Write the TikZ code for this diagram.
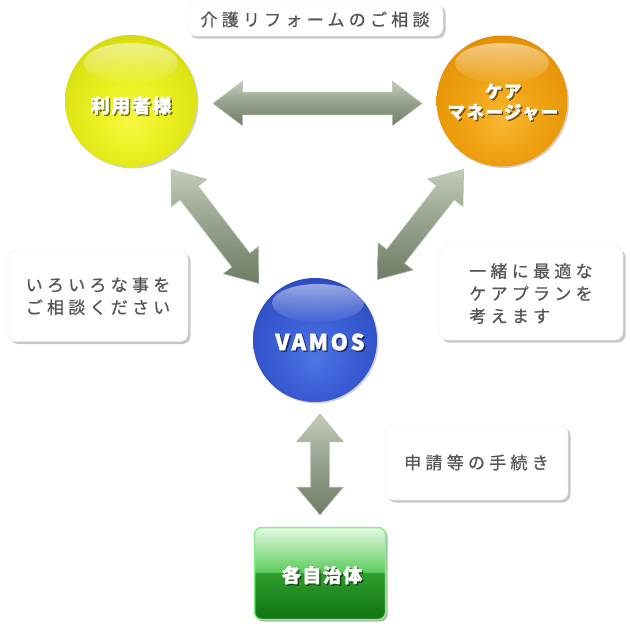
\documentclass[tikz,border=0pt]{standalone}
\usepackage{fontspec}
\newfontfamily\jpbox[LetterSpace=25,FakeBold=0.7]{Noto Sans CJK JP}
\newfontfamily\jpw[LetterSpace=8,FakeBold=1.6]{Noto Sans CJK JP}
\newfontfamily\jpv[LetterSpace=12,FakeBold=1.6]{Noto Sans CJK JP}
\usetikzlibrary{shapes.arrows,shadows,fadings,calc}
\definecolor{yA}{HTML}{F6F840}\definecolor{yB}{HTML}{EAF020}\definecolor{yC}{HTML}{DDE214}\definecolor{yD}{HTML}{CACA00}
\definecolor{oA}{HTML}{F8B630}\definecolor{oB}{HTML}{F0A414}\definecolor{oC}{HTML}{E89608}\definecolor{oD}{HTML}{D48000}
\definecolor{bA}{HTML}{4C76E4}\definecolor{bB}{HTML}{3C60D6}\definecolor{bC}{HTML}{3252C8}\definecolor{bD}{HTML}{223CA8}
\definecolor{gA}{HTML}{137413}\definecolor{gB}{HTML}{177C17}\definecolor{gC}{HTML}{2E9E2E}\definecolor{gD}{HTML}{5CCC5C}\definecolor{gE}{HTML}{E4FAE4}
\definecolor{gEdge}{HTML}{86F086}
\definecolor{aT}{HTML}{C2CBB9}\definecolor{aM}{HTML}{94A08B}\definecolor{aB}{HTML}{6E7D66}\definecolor{aEdge}{HTML}{B8C2B0}
\definecolor{tgray}{HTML}{555555}
\pgfdeclareradialshading{sphY}{\pgfpoint{0bp}{-8bp}}{color(0bp)=(yA); color(14bp)=(yB); color(26bp)=(yC); color(33bp)=(yD); color(50bp)=(yD)}
\pgfdeclareradialshading{sphO}{\pgfpoint{0bp}{-8bp}}{color(0bp)=(oA); color(14bp)=(oB); color(26bp)=(oC); color(33bp)=(oD); color(50bp)=(oD)}
\pgfdeclareradialshading{sphB}{\pgfpoint{0bp}{-8bp}}{color(0bp)=(bA); color(14bp)=(bB); color(26bp)=(bC); color(33bp)=(bD); color(50bp)=(bD)}
\pgfdeclareverticalshading{grn}{100bp}{color(0bp)=(gA); color(25bp)=(gA); color(30bp)=(gB); color(50.3bp)=(gC); color(50.8bp)=(gD); color(75bp)=(gE); color(100bp)=(gE)}
\tikzfading[name=hl, top color=transparent!50, bottom color=transparent!97]
\tikzset{
  sphere/.style={circle, inner sep=0pt, drop shadow={shadow xshift=1.5pt, shadow yshift=-1.5pt, opacity=0.18, fill=black}},
  tbox/.style={rounded corners=8pt, fill=white, draw=black!8, inner sep=0pt,
    drop shadow={shadow xshift=2.5pt, shadow yshift=-2.5pt, opacity=0.22, fill=black},
    text=tgray, font=\jpbox\fontsize{17pt}{22.5pt}\selectfont, align=left},
  wtext/.style={text=white, inner sep=0pt, align=center},
  wshad/.style={text=black, text opacity=0.45, inner sep=0pt, align=center, xshift=1.5pt, yshift=-1.5pt},
  dblarrow/.style={double arrow, draw=aEdge, line width=0.6pt, top color=aT, bottom color=aB, middle color=aM,
    inner xsep=0pt, inner ysep=11pt, double arrow head extend=11pt, double arrow tip angle=74, sloped, midway},
  hlight/.style={white, path fading=hl}
}
\begin{document}
\begin{tikzpicture}[x=1pt,y=-1pt]
\useasboundingbox (0,0) rectangle (630,630);
% text boxes
\node[tbox, minimum width=256pt, minimum height=33pt] (title) at (315,19.5) {介護リフォームのご相談};
\node[tbox, minimum width=180pt, minimum height=91pt] (lbox) at (98,296) {いろいろな事を\\ご相談ください};
\node[tbox, minimum width=184pt, minimum height=93pt] (rbox) at (531,293.5) {一緒に最適な\\ケアプランを\\考えます};
\node[tbox, minimum width=183pt, minimum height=75pt] (mbox) at (476.5,462.5) {申請等の手続き};
% main nodes
\node[sphere, shading=sphY, minimum size=132pt] (user) at (131,101) {};
\node[sphere, shading=sphO, minimum size=131pt] (cm) at (502,101) {};
\node[sphere, shading=sphB, minimum size=124pt] (vamos) at (315,340) {};
\node[rounded corners=7pt, shading=grn, draw=gEdge, line width=1.5pt, minimum width=131pt, minimum height=92pt,
  drop shadow={shadow xshift=2pt, shadow yshift=-2pt, opacity=0.3, fill=black}] (city) at (320,573.5) {};
% highlights
\fill[hlight] (131,63) ellipse [x radius=47pt, y radius=20pt];
\fill[hlight] (502,63) ellipse [x radius=47pt, y radius=20pt];
\fill[hlight] (318,303) ellipse [x radius=46pt, y radius=19pt];
% labels in spheres
\node[wshad, font=\jpw\bfseries\fontsize{19pt}{22pt}\selectfont] (userS) at (131,105.5) {利用者様};
\node[wtext, font=\jpw\bfseries\fontsize{19pt}{22pt}\selectfont] (userT) at (131,105.5) {利用者様};
\node[wshad, font=\jpw\bfseries\fontsize{17.5pt}{20.5pt}\selectfont] (cmS) at (503,102) {ケア\\マネージャー};
\node[wtext, font=\jpw\bfseries\fontsize{17.5pt}{20.5pt}\selectfont] (cmT) at (503,102) {ケア\\マネージャー};
\node[wshad, font=\jpv\bfseries\fontsize{22pt}{24pt}\selectfont] (vamosS) at (320,342) {VAMOS};
\node[wtext, font=\jpv\bfseries\fontsize{22pt}{24pt}\selectfont] (vamosT) at (320,342) {VAMOS};
\node[wshad, font=\jpw\bfseries\fontsize{19pt}{22pt}\selectfont] (cityS) at (322,575) {各自治体};
\node[wtext, font=\jpw\bfseries\fontsize{19pt}{22pt}\selectfont] (cityT) at (322,575) {各自治体};
% arrows
\path ([shift={(1,2.5)}]user.center) -- ([shift={(1,2.5)}]cm.center) node[dblarrow, minimum height=209pt] (a1) {};
\path ([shift={(-8,6)}]user.center) -- ([shift={(-8,6)}]vamos.center) node[dblarrow, minimum height=144pt] (a2) {};
\path ([shift={(12,4)}]cm.center) -- ([shift={(12,4)}]vamos.center) node[dblarrow, minimum height=140pt] (a3) {};
\path (vamos.south -| city.north) -- (city.north) node[dblarrow, minimum height=101pt, inner ysep=9pt, double arrow head extend=14pt, double arrow tip angle=80] (a4) {};
\end{tikzpicture}
\end{document}
